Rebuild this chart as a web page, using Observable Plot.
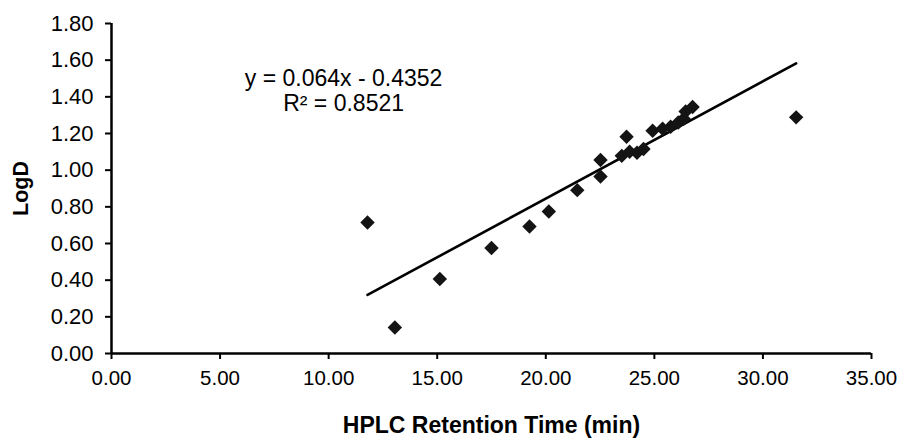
<!DOCTYPE html>
<html>
<head>
<meta charset="utf-8">
<script src="https://cdn.jsdelivr.net/npm/d3@7"></script>
<script src="https://cdn.jsdelivr.net/npm/@observablehq/plot@0.6"></script>
<style>
  html, body { margin: 0; padding: 0; background: #fff; }
  svg { display: block; }
</style>
</head>
<body>
<div id="chart"></div>
<script>
const retentionTime = [11.79, 13.05, 15.12, 17.50, 19.25, 20.14, 21.45, 22.52, 22.52, 23.50, 23.72, 23.86, 24.20, 24.50, 24.92, 25.38, 25.75, 26.10, 26.35, 26.44, 26.76, 31.53];
const logD =          [0.715, 0.142, 0.406, 0.575, 0.693, 0.775, 0.891, 0.965, 1.055, 1.078, 1.182, 1.100, 1.095, 1.115, 1.215, 1.226, 1.237, 1.260, 1.280, 1.320, 1.345, 1.288];
const slope = 0.064;
const intercept = -0.4352;
const rSquared = 0.8521;
const xTicks = [0, 5, 10, 15, 20, 25, 30, 35];
const yTicks = [0, 0.2, 0.4, 0.6, 0.8, 1.0, 1.2, 1.4, 1.6, 1.8];
const xLabel = "HPLC Retention Time (min)";
const yLabel = "LogD";

const points = retentionTime.map((x, i) => ({x, y: logD[i]}));
const xMin = d3.min(retentionTime), xMax = d3.max(retentionTime);
const trend = [xMin, xMax].map(x => ({x, y: slope * x + intercept}));
const eqText = [`y = ${slope}x - ${Math.abs(intercept)}`, `R² = ${rSquared}`];

const font = "'Liberation Sans', Arial, sans-serif";

const chart = Plot.plot({
  width: 904,
  height: 447,
  marginLeft: 111,
  marginRight: 33,
  marginTop: 23,
  marginBottom: 94,
  style: {fontFamily: font, color: "#000", background: "#fff"},
  x: {domain: [0, 35]},
  y: {domain: [0, 1.8]},
  marks: [
    Plot.axisX({ticks: xTicks, tickFormat: d => d.toFixed(2), tickSize: 6, tickPadding: 11, fontSize: 20.5, strokeWidth: 2, label: null}),
    Plot.axisY({ticks: yTicks, tickFormat: d => d.toFixed(2), tickSize: 6, tickPadding: 12, fontSize: 22, strokeWidth: 2, label: null}),
    Plot.ruleX([0], {stroke: "#000", strokeWidth: 2.5}),
    Plot.ruleY([0], {stroke: "#000", strokeWidth: 2.5}),
    Plot.line(trend, {x: "x", y: "y", stroke: "#000", strokeWidth: 2.6}),
    Plot.dot(points, {x: "x", y: "y", symbol: "diamond2", r: 6.5, fill: "#141414", stroke: "none"}),
    Plot.text([eqText[0]], {x: 10.69, y: 1.50, text: d => d, fontSize: 23, textAnchor: "middle", lineAnchor: "middle", fill: "#000"}),
    Plot.text([eqText[1]], {x: 10.69, y: 1.362, text: d => d, fontSize: 23, textAnchor: "middle", lineAnchor: "middle", fill: "#000"}),
    Plot.text([xLabel], {frameAnchor: "bottom", dy: 72, text: d => d, fontSize: 23, fontWeight: "bold", textAnchor: "middle", lineAnchor: "middle", fill: "#000"}),
    Plot.text([yLabel], {frameAnchor: "left", dx: -90, rotate: -90, text: d => d, fontSize: 21.5, fontWeight: "bold", textAnchor: "middle", lineAnchor: "middle", fill: "#000"})
  ]
});
document.getElementById("chart").appendChild(chart);
</script>
</body>
</html>
